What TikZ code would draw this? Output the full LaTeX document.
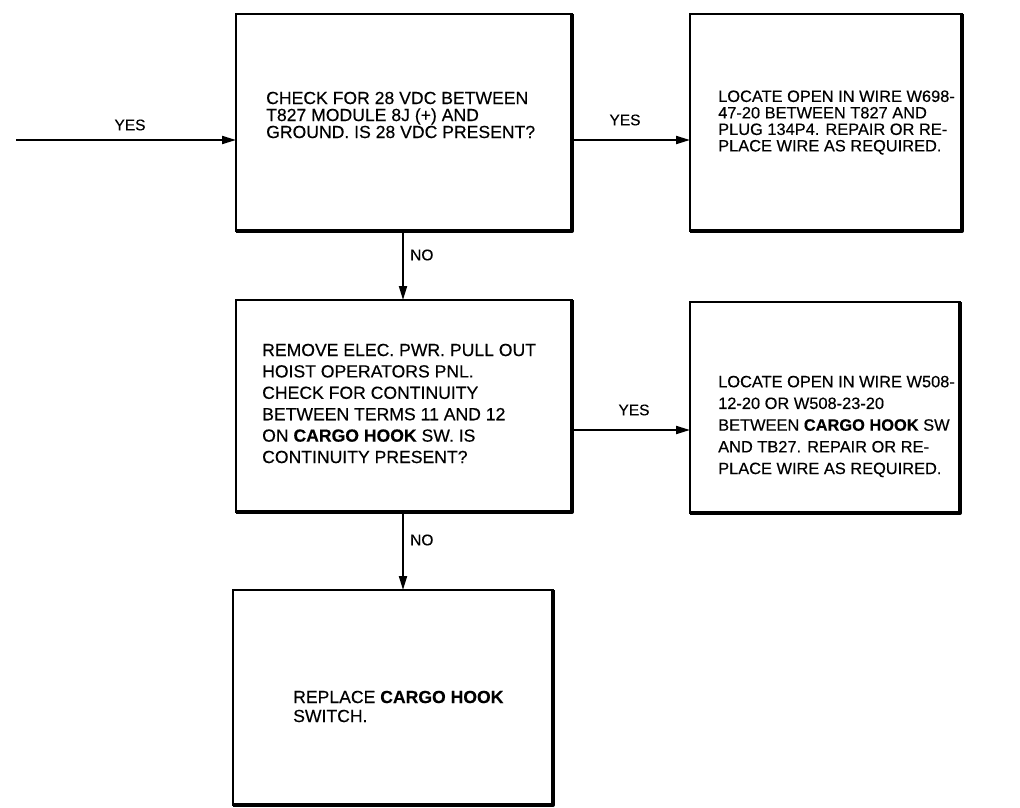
\documentclass[tikz,border=0pt]{standalone}
\usepackage{fontspec}
\setmainfont{Liberation Sans}[FakeBold=0.35]
\usetikzlibrary{arrows.meta}
\begin{document}
\begin{tikzpicture}[x=1pt,y=-1pt,
  box/.style={draw,line width=1.6pt,rectangle,inner sep=0pt,outer sep=0pt},
  shade/.style={line width=4pt,line join=round},
  txt/.style={anchor=west,align=left,inner sep=0pt},
  lbl/.style={inner sep=0pt,font=\fontsize{15.5}{15.5}\selectfont},
  arr/.style={line width=2pt,-{Triangle[length=14pt,width=8pt]}}]
\useasboundingbox (0,0) rectangle (1020,808);
% boxes
\node[box,minimum width=336pt,minimum height=217pt] (b1) at (404,122.5) {};
\node[box,minimum width=272pt,minimum height=217pt] (b2) at (826,122.5) {};
\node[box,minimum width=336pt,minimum height=212pt] (b3) at (404,406) {};
\node[box,minimum width=270pt,minimum height=211pt] (b4) at (825,407.5) {};
\node[box,minimum width=320pt,minimum height=215pt] (b5) at (393,697.5) {};
\foreach \b in {b1,b2,b3,b4,b5}{
  \draw[shade] (\b.north east) -- (\b.south east) -- (\b.south west);
}
% texts
\node[txt,font=\fontsize{17.6}{17}\selectfont] (t1) at (266,115)
  {CHECK FOR 28 VDC BETWEEN\\T827 MODULE 8J (+) AND\\GROUND. IS 28 VDC PRESENT?};
\node[txt,font=\fontsize{16.4}{16.5}\selectfont] (t2) at (718,122.5)
  {LOCATE OPEN IN WIRE W698-\\47-20 BETWEEN T827 AND\\PLUG 134P4. REPAIR OR RE-\\PLACE WIRE AS REQUIRED.};
\node[txt,font=\fontsize{17.6}{21.4}\selectfont] (t3) at (262,403.5)
  {REMOVE ELEC. PWR. PULL OUT\\HOIST OPERATORS PNL.\\CHECK FOR CONTINUITY\\BETWEEN TERMS 11 AND 12\\ON \textbf{CARGO HOOK} SW. IS\\CONTINUITY PRESENT?};
\node[txt,font=\fontsize{16.4}{21.7}\selectfont] (t4) at (718,426.5)
  {LOCATE OPEN IN WIRE W508-\\12-20 OR W508-23-20\\BETWEEN \textbf{CARGO HOOK} SW\\AND TB27. REPAIR OR RE-\\PLACE WIRE AS REQUIRED.};
\node[txt,font=\fontsize{17.6}{19}\selectfont] (t5) at (293,706.5)
  {REPLACE \textbf{CARGO HOOK}\\SWITCH.};
% connectors
\coordinate (s0) at (16,140);
\draw[arr] (s0) -- (s0 -| b1.west);
\node[lbl] (y0) at (130,125) {YES};
\coordinate (s1) at (572,140);
\draw[arr] (s1) -- (s1 -| b2.west);
\node[lbl] (y1) at (625,120) {YES};
\coordinate (s2) at (403,231);
\draw[arr] (s2) -- (s2 |- b3.north);
\node[lbl,anchor=west] (n1) at (410,255) {NO};
\coordinate (s3) at (572,430);
\draw[arr] (s3) -- (s3 -| b4.west);
\node[lbl] (y2) at (634,410) {YES};
\coordinate (s4) at (403,512);
\draw[arr] (s4) -- (s4 |- b5.north);
\node[lbl,anchor=west] (n2) at (410,540) {NO};
\end{tikzpicture}
\end{document}
